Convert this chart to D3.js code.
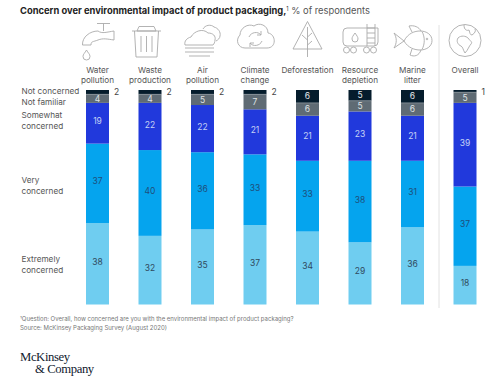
<!DOCTYPE html>
<html>
<head>
<meta charset="utf-8">
<script src="https://cdn.jsdelivr.net/npm/d3@7"></script>
<style>
  html, body { margin: 0; padding: 0; background: #fff; }
  svg { display: block; font-family: "Inter", "Liberation Sans", sans-serif; }
</style>
</head>
<body>
<svg id="chart" width="500" height="382"></svg>
<script>
// values, % of respondents
const topics = ["Water pollution", "Waste production", "Air pollution", "Climate change", "Deforestation", "Resource depletion", "Marine litter", "Overall"];
const levels = ["Extremely concerned", "Very concerned", "Somewhat concerned", "Not familiar", "Not concerned"];
const extremely = [38, 32, 35, 37, 34, 29, 36, 18];
const very = [37, 40, 36, 33, 33, 38, 31, 37];
const somewhat = [19, 22, 22, 21, 21, 23, 21, 39];
const notFamiliar = [4, 4, 5, 7, 6, 5, 6, 5];
const notConcerned = [2, 2, 2, 2, 6, 5, 6, 1];
const colors = ["#6fcdf0", "#05a4ee", "#2139dc", "#5f6b74", "#051c2c"];
const textColors = ["#2f4a5e", "#1f4f7c", "#c4d2f5", "#dfe3e6", "#e6e9ec"];

const svg = d3.select("#chart");

const rows = topics.map((t, i) => ({
    topic: t,
    "Extremely concerned": extremely[i],
    "Very concerned": very[i],
    "Somewhat concerned": somewhat[i],
    "Not familiar": notFamiliar[i],
    "Not concerned": notConcerned[i]
}));

const series = d3.stack().keys(levels)(rows);

//scales
const x = d3.scaleBand()
    .domain(topics)
    .range([86, 476.5])
    .paddingInner(0.562)
    .paddingOuter(0);

const y = d3.scaleLinear()
    .domain([0, 100])
    .range([304.5, 90]);

const color = d3.scaleOrdinal().domain(levels).range(colors);
const textColor = d3.scaleOrdinal().domain(levels).range(textColors);

//bars
const layers = svg.append("g")
    .selectAll("g")
    .data(series)
    .enter()
    .append("g")
    .attr("fill", d => color(d.key));

layers.selectAll("rect")
    .data(d => d)
    .enter()
    .append("rect")
    .attr("x", d => x(d.data.topic))
    .attr("y", d => y(d[1]))
    .attr("width", x.bandwidth())
    .attr("height", d => y(d[0]) - y(d[1]));

// thin white seam between the dark segments at the top
svg.append("g")
    .selectAll("line")
    .data(series[3])
    .enter()
    .append("line")
    .attr("x1", d => x(d.data.topic))
    .attr("x2", d => x(d.data.topic) + x.bandwidth())
    .attr("y1", d => y(d[1]))
    .attr("y2", d => y(d[1]))
    .attr("stroke", "#fff")
    .attr("stroke-opacity", 0.5)
    .attr("stroke-width", 0.5);

//value labels; 1 and 2 don't fit so they go beside the bar
const isSmall = d => (d[1] - d[0]) <= 2;
layers.each(function(s) {
    d3.select(this).selectAll("text")
        .data(s)
        .enter()
        .append("text")
        .attr("x", d => isSmall(d) ? x(d.data.topic) + x.bandwidth() + 5 : x(d.data.topic) + x.bandwidth() / 2)
        // labels in the tall segments sit a little above the middle
        .attr("y", d => isSmall(d) ? y(d[1]) + 1.5 : (y(d[0]) + y(d[1])) / 2 - ((d[1] - d[0]) > 15 ? 2 : 0))
        .attr("dy", "0.36em")
        .attr("text-anchor", d => isSmall(d) ? "start" : "middle")
        .attr("font-size", 8.5)
        .attr("fill", d => isSmall(d) ? "#444" : textColor(s.key))
        .text(d => d[1] - d[0]);
});

//column headers
const headerLines = d => d.split(" ");
svg.append("g")
    .selectAll("text")
    .data(topics)
    .enter()
    .append("text")
    .attr("x", d => x(d) + x.bandwidth() / 2)
    .attr("y", 72.5)
    .attr("text-anchor", "middle")
    .attr("font-size", 8.2)
    .attr("fill", "#555")
    .each(function(d) {
        d3.select(this).selectAll("tspan")
            .data(headerLines(d))
            .enter()
            .append("tspan")
            .attr("x", x(d) + x.bandwidth() / 2)
            .attr("dy", (l, i) => i ? 10.5 : 0)
            .text(l => l);
    });

//row labels on the left
const rowLabels = [
    { lines: ["Not concerned"], y: 94 },
    { lines: ["Not familiar"], y: 105 },
    { lines: ["Somewhat", "concerned"], y: 118 },
    { lines: ["Very", "concerned"], y: 183 },
    { lines: ["Extremely", "concerned"], y: 262 }
];
svg.append("g")
    .selectAll("text")
    .data(rowLabels)
    .enter()
    .append("text")
    .attr("x", 21.5)
    .attr("y", d => d.y)
    .attr("font-size", 8.2)
    .attr("fill", "#555")
    .each(function(d) {
        d3.select(this).selectAll("tspan")
            .data(d.lines)
            .enter()
            .append("tspan")
            .attr("x", 21.5)
            .attr("dy", (l, i) => i ? 10.5 : 0)
            .text(l => l);
    });

//divider before overall
svg.append("line")
    .attr("x1", 439).attr("x2", 439)
    .attr("y1", 25).attr("y2", 308)
    .attr("stroke", "#e2e2e2")
    .attr("stroke-width", 1);

//title
const title = svg.append("text")
    .attr("x", 20)
    .attr("y", 14)
    .attr("font-size", 9.35)
    .attr("fill", "#222");
title.append("tspan").attr("font-weight", 700).text("Concern over environmental impact of product packaging,");
title.append("tspan").attr("font-size", 5.5).attr("dy", -3).attr("fill", "#333").text("1");
title.append("tspan").attr("dy", 3).attr("fill", "#555").text(" % of respondents");

//footnotes
const notes = ["\u00B9Question: Overall, how concerned are you with the environmental impact of product packaging?",
    "Source: McKinsey Packaging Survey (August 2020)"];
svg.append("g")
    .selectAll("text")
    .data(notes)
    .enter()
    .append("text")
    .attr("x", 20)
    .attr("y", (d, i) => 321 + i * 8.5)
    .attr("font-size", 6)
    .attr("fill", "#777")
    .text(d => d);

//logo
const logo = svg.append("text")
    .attr("font-family", "Liberation Serif, serif")
    .attr("font-size", 12.7)
    .attr("fill", "#10202e")
    .attr("letter-spacing", -0.4);
logo.append("tspan").attr("x", 20).attr("y", 360.5).text("McKinsey");
logo.append("tspan").attr("x", 35).attr("y", 372.5).text("& Company");

/*** icons, hand drawn line art ***/
const icons = svg.append("g")
    .attr("fill", "none")
    .attr("stroke", "#aaaaaa")
    .attr("stroke-width", 0.9)
    .attr("stroke-linejoin", "round");

const iconPaths = [
    // tap
    "M97 23.500H110 M103.500 23.500V31 M98 31C102 34 107 32 114 31V40C107 39 103 38 98 40C93 42 91 41 91 45H82.500C82 37 90 31 98 31Z M86.500 50C85 53 83 54 83 56.500A3.500 3.500 0 0 0 90 56.500C90 54 88 53 86.500 50Z",
    // bin
    "M132 31H161 M134.500 31L136 57H157L158.500 31 M139 26.500H154L156 31H137Z M141 36V52 M146.500 36V52 M152 36V52",
    // clouds + haze
    "M185 45C184 41 187 38 191 37C194 31 203 28 208 33C213 33 216 36 215 40C215 42 214 44 213 45Z M203 29C205 25 211 24 214 27C218 28 221 32 220 36C220 38 218 40 216 41 M185 48H214 M185 52H214 M189 56H210",
    // cloud with arrows
    "M245 48C238 48 235 40 240 35C240 28 248 23 254 26C259 22 268 25 268 33C276 34 277 48 267 48Z M249 37C251 32 258 31 261 35 M262 41C260 46 253 47 250 43 M261 31V35H257 M250 47V43H254",
    // tree in triangle
    "M307.500 21.500L322 49H293Z M307.500 27V57 M307.500 40L302 35 M307.500 37L312 33 M307.500 45L312 41",
    // tanker
    "M347 28H378V42Q378 46 374 46H347Q343 46 343 42V32Q343 28 347 28Z M367 24V46 M375 24V46 M367 28H375 M367 33H375 M367 38H375 M367 43H375 M355 33C353 36 352 37 352 39A3 3 0 0 0 358 39C358 37 357 36 355 33Z",
    // fish
    "M404 41C408 33 415 31 420 31C427 31 432 35 432 40.500C432 46 427 50 420 50C415 50 408 48 404 41Z M404 41L394 33C397 38 397 43 394 48Z M412 32L409 26C414 25 419 27 421 31 M412 49L410 55C414 57 419 56 421 50 M422 31.500C425 37 425 44 422 49.500",
    // globe continents
    "M458 38C461 35 466 36 468 38C470 41 473 42 471 44C469 46 468 50 465 53C463 50 463 47 461 46C458 45 456 41 458 38Z M464 25C464 30 467 31 469 30C470 33 470 35 472 35C475 33 476 31 475 29"
];

icons.selectAll("path")
    .data(iconPaths)
    .enter()
    .append("path")
    .attr("d", d => d);

// tanker wheels, fish eye, globe outline
const iconDots = [[346.5, 50, 3], [353.5, 50, 3], [366.5, 50, 3], [373.5, 50, 3], [427, 39, 0.8], [465, 40.5, 16]];
icons.selectAll("circle")
    .data(iconDots)
    .enter()
    .append("circle")
    .attr("cx", d => d[0])
    .attr("cy", d => d[1])
    .attr("r", d => d[2]);
</script>
</body>
</html>
